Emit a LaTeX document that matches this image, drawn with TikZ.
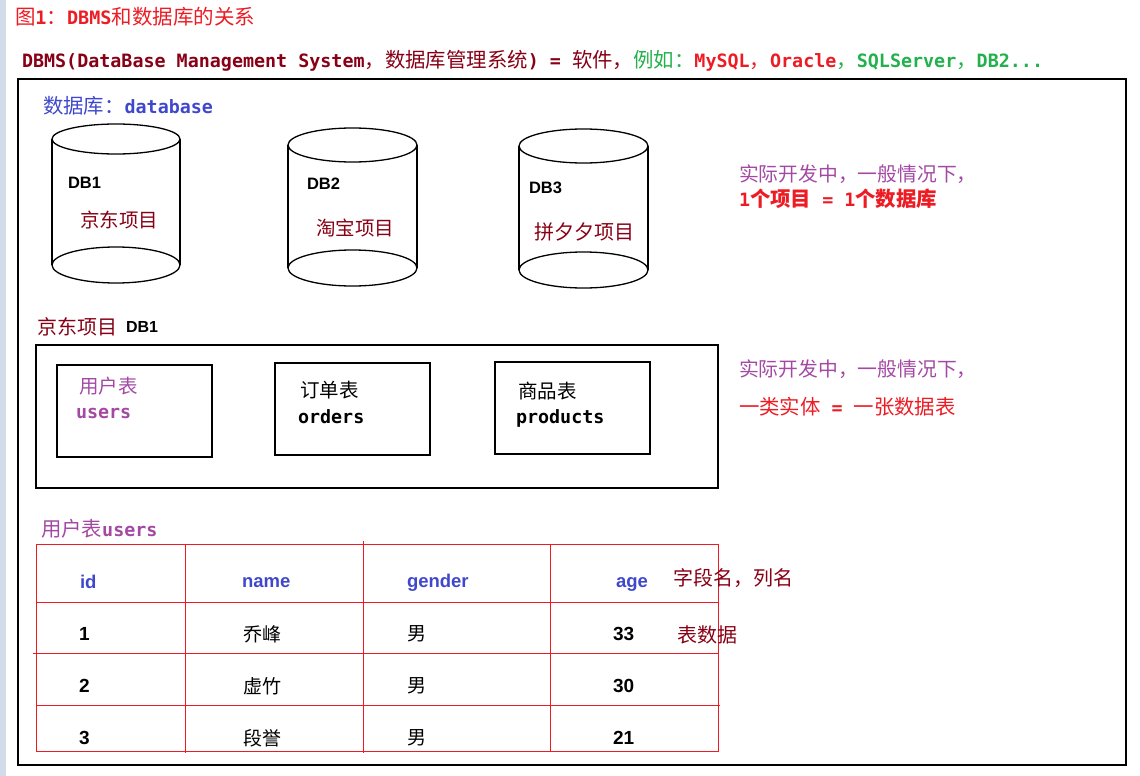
\documentclass[tikz,border=0pt]{standalone}
\usepackage{fontspec}
\setmainfont{DejaVu Sans Mono}[Scale=0.9]
\setsansfont{Liberation Sans}
\newfontfamily\cjkf{Noto Sans CJK SC}
\definecolor{pred}{RGB}{237,28,36}
\definecolor{dred}{RGB}{136,0,21}
\definecolor{pgreen}{RGB}{34,177,76}
\definecolor{pblue}{RGB}{63,72,204}
\definecolor{ppurple}{RGB}{163,73,164}
\definecolor{stripc}{RGB}{210,219,233}
\newcommand\fsz[1]{\fontsize{#1}{#1}\selectfont}
\newcommand\C[1]{{\cjkf\mdseries #1}}
\newcommand\CB[1]{{\cjkf\bfseries #1}}
\newcommand\dbcyl[6]{%
  \draw[cyl] (#1,#3) ellipse [x radius=#2pt, y radius=#4pt];
  \draw[cyl] (#1,#5) ellipse [x radius=#2pt, y radius=#6pt];
  \draw[cyl] (#1-#2,#3) -- (#1-#2,#5);
  \draw[cyl] (#1+#2,#3) -- (#1+#2,#5);
}
\tikzset{
  txt/.style={anchor=west, inner sep=0pt, outer sep=0pt},
  cyl/.style={line width=1.3pt},
  frame/.style={draw, line width=2pt},
  box/.style={draw, line width=1.3pt},
  grid/.style={draw=pred, line width=1pt},
  mono/.style={txt, font=\fsz{20.4}\bfseries},
  cj/.style={txt, font=\fsz{#1}\cjkf},
  dbt/.style={txt, font=\fsz{16.5}\sffamily\bfseries},
  hd/.style={txt, font=\fsz{18.5}\sffamily\bfseries, text=pblue},
  num/.style={txt, font=\fsz{19}\sffamily\bfseries},
}
\begin{document}
\begin{tikzpicture}[x=1pt,y=-1pt]
\useasboundingbox (0,0) rectangle (1140,776);
\fill[stripc] (0,0) rectangle (6,776);

\node[txt, font=\fsz{20.5}\bfseries, text=pred] (title) at (15,17) {\C{图}1\C{：}DBMS\C{和数据库的关系}};
\node[mono, text=dred] (dbms) at (22,61) {DBMS(DataBase Management System\C{，数据库管理系统}) = \C{软件，}\textcolor{pgreen}{\C{例如：}}\textcolor{pred}{MySQL\C{，}Oracle}\textcolor{pgreen}{\C{，}SQLServer\C{，}DB2...}};

\draw[frame] (18,79) rectangle (1126,765);

\node[mono, text=pblue] (dbhead) at (43,106) {\C{数据库：}database};

\dbcyl{116}{64}{139}{15}{265}{18}
\dbcyl{352.5}{64.5}{145}{17}{268}{18}
\dbcyl{583.5}{64.5}{146}{17}{270}{18}

\node[dbt] (db1) at (68,183) {DB1};
\node[cj=19.5, text=dred] (jd) at (80,220) {京东项目};
\node[dbt] (db2) at (307,184) {DB2};
\node[cj=19.5, text=dred] (tb) at (316,228) {淘宝项目};
\node[dbt] (db3) at (529,188) {DB3};
\node[cj=20, text=dred] (pdd) at (534,232) {拼夕夕项目};

\node[cj=19.8, text=ppurple] (note1) at (739,174) {实际开发中，一般情况下，};
\node[mono, text=pred] (note2) at (739,199) {1\CB{个项目} = 1\CB{个数据库}};

\node[cj=20, text=dred] (jdlabel) at (37,327) {京东项目};
\node[txt, font=\fsz{16}\sffamily\bfseries] (jddb) at (126,327) {DB1};

\draw[box] (36,345) rectangle (718,488);
\draw[box] (57,365) rectangle (212,457);
\draw[box] (275,363) rectangle (430,455);
\draw[box] (495,362) rectangle (650,454);

\node[cj=19.5, text=ppurple] (t1c) at (79,386) {用户表};
\node[mono, text=ppurple] (t1e) at (76,413) {users};
\node[cj=19.5] (t2c) at (300,390) {订单表};
\node[mono] (t2e) at (298,417) {orders};
\node[cj=19.5] (t3c) at (518,391) {商品表};
\node[mono] (t3e) at (516,418) {products};

\node[cj=19.8, text=ppurple] (note3) at (739,369) {实际开发中，一般情况下，};
\node[mono, text=pred] (note4) at (739,407) {\C{一类实体} = \C{一张数据表}};

\node[mono, text=ppurple] (ulabel) at (41,529) {\C{用户表}users};

\draw[grid] (36,544) rectangle (718,751);
\draw[grid] (36,602) -- (718,602);
\draw[grid] (33,653) -- (718,653);
\draw[grid] (36,705) -- (720,705);
\draw[grid] (185,544) -- (185,753);
\draw[grid] (363,541) -- (363,753);
\draw[grid] (550,544) -- (550,751);

\node[hd] (hid) at (80,582) {id};
\node[hd] (hname) at (242,583) {name};
\node[hd] (hgender) at (407,583) {gender};
\node[hd] (hage) at (616,584) {age};

\node[num] (r1a) at (79,634) {1};
\node[cj=19] (r1b) at (243,634) {乔峰};
\node[cj=19] (r1c) at (407,634) {男};
\node[num] (r1d) at (613,634) {33};
\node[num] (r2a) at (79,686) {2};
\node[cj=19] (r2b) at (243,686) {虚竹};
\node[cj=19] (r2c) at (407,686) {男};
\node[num] (r2d) at (613,686) {30};
\node[num] (r3a) at (79,738) {3};
\node[cj=19] (r3b) at (243,738) {段誉};
\node[cj=19] (r3c) at (407,738) {男};
\node[num] (r3d) at (613,738) {21};

\node[cj=20, text=dred] (fld) at (673,578) {字段名，列名};
\node[cj=20, text=dred] (tdata) at (677,635) {表数据};
\end{tikzpicture}
\end{document}
